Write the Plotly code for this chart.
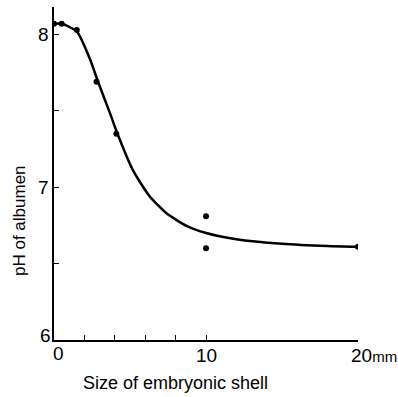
import plotly.graph_objects as go

# measured points
size_mm = [0, 0.5, 1.5, 2.8, 4.1, 10, 10, 20]
ph_albumen = [8.07, 8.07, 8.03, 7.69, 7.35, 6.81, 6.60, 6.61]

# fitted curve
curve_x = [0, 0.5, 1.5, 2.4, 2.9, 3.7, 4.1, 5.2, 6.3, 7.4, 8.75, 10, 12, 15, 18, 20]
curve_y = [8.07, 8.07, 8.02, 7.83, 7.69, 7.48, 7.37, 7.11, 6.94, 6.83, 6.745, 6.70, 6.66, 6.63, 6.615, 6.61]

x_ticks = [0, 2, 4, 6, 8, 10, 20]
y_ticks = [6, 6.5, 7, 7.5, 8]

FONT = "Liberation Sans, Arial, sans-serif"

fig = go.Figure()
fig.add_trace(go.Scatter(x=curve_x, y=curve_y, mode="lines",
                         line=dict(color="black", width=2.5, shape="spline", smoothing=0.6),
                         hoverinfo="skip"))
fig.add_trace(go.Scatter(x=size_mm, y=ph_albumen, mode="markers",
                         marker=dict(color="black", size=6)))

fig.update_layout(
    width=398, height=397,
    margin=dict(l=54, r=40, t=7, b=57, autoexpand=False),
    paper_bgcolor="white", plot_bgcolor="white",
    showlegend=False,
    font=dict(family=FONT, size=14, color="black"),
)
fig.update_xaxes(range=[0, 20], showgrid=False, zeroline=False, showline=True,
                 linecolor="black", linewidth=1.5, ticks="inside", ticklen=5,
                 tickcolor="black", tickwidth=1, tickvals=x_ticks, showticklabels=False)
fig.update_yaxes(range=[6, 8.18], showgrid=False, zeroline=False, showline=True,
                 linecolor="black", linewidth=1.5, ticks="inside", ticklen=5,
                 tickcolor="black", tickwidth=1, tickvals=y_ticks, showticklabels=False)

anns = [
    dict(x=0, y=8, text="8", xanchor="right", yanchor="middle", xshift=-3),
    dict(x=0, y=7, text="7", xanchor="right", yanchor="middle", xshift=-3),
    dict(x=0, y=6, text="6", xanchor="right", yanchor="middle", xshift=-1, yshift=5),
    dict(x=0, y=6, text="0", xanchor="center", yanchor="top", xshift=4, yshift=-1),
    dict(x=10, y=6, text="10", xanchor="center", yanchor="top", yshift=-3),
    dict(x=20, y=6, text="20<span style='font-size:15px'>mm</span>", xanchor="left", yanchor="top", xshift=-9, yshift=-3),
]
for a in anns:
    fig.add_annotation(xref="x", yref="y", showarrow=False, font=dict(family=FONT, size=19, color="black"), **a)

fig.add_annotation(xref="paper", yref="paper", x=(175 - 54) / 304, y=(340 - 383) / 333,
                   text="Size of embryonic shell", showarrow=False, xanchor="center", yanchor="middle",
                   font=dict(family=FONT, size=18, color="black"))
fig.add_annotation(xref="paper", yref="paper", x=(20 - 54) / 304, y=(340 - 221) / 333, text="pH of albumen",
                   showarrow=False, textangle=-90, xanchor="center", yanchor="middle",
                   font=dict(family=FONT, size=17, color="black"))

fig.write_html("out.html", config={"displayModeBar": False},
               post_script="document.body.style.margin='0';")
